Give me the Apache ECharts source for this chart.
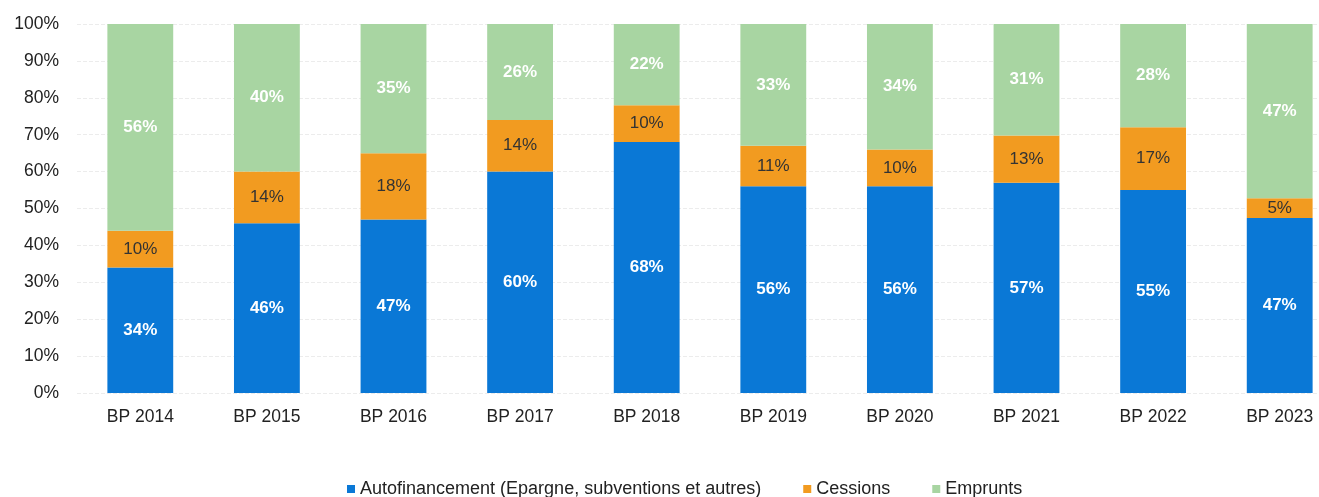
<!DOCTYPE html>
<html>
<head>
<meta charset="utf-8">
<script src="https://cdn.jsdelivr.net/npm/echarts@6/dist/echarts.min.js"></script>
<style>
  html, body { margin: 0; padding: 0; background: #fff; }
  #chart { width: 1319px; height: 497px; }
</style>
</head>
<body>
<div id="chart"></div>
<script>
const categories = ["BP 2014", "BP 2015", "BP 2016", "BP 2017", "BP 2018",
  "BP 2019", "BP 2020", "BP 2021", "BP 2022", "BP 2023"];
const autofinancement = [34, 46, 47, 60, 68, 56, 56, 57, 55, 47.4];
const cessions = [10, 14, 18, 14, 10, 11, 10, 12.8, 17, 5.4];
const emprunts = [56, 40, 35, 26, 22, 33, 34, 30.5, 28, 47.2];

const font = "Liberation Sans, Arial, sans-serif";

function seg(name, data, color, labelColor, bold) {
  return {
    name: name,
    type: "bar",
    stack: "total",
    data: data,
    barWidth: "52%",
    itemStyle: { color: color },
    label: {
      show: true,
      position: "inside",
      formatter: p => Math.round(p.value) + "%",
      color: labelColor,
      fontFamily: font,
      fontSize: 17,
      fontWeight: bold ? "bold" : "normal"
    }
  };
}

const chart = echarts.init(document.getElementById("chart"));
chart.setOption({
  animation: false,
  grid: { left: 77, width: 1266, top: 24, bottom: 104, outerBoundsMode: "none" },
  legend: {
    top: 475,
    left: 342,
    itemWidth: 8,
    itemHeight: 8,
    itemGap: 42,
    icon: "rect",
    textStyle: { fontFamily: font, fontSize: 18, color: "#222" },
    data: ["Autofinancement (Epargne, subventions et autres)", "Cessions", "Emprunts"]
  },
  xAxis: {
    type: "category",
    data: categories,
    axisLine: { show: false },
    axisTick: { show: false },
    axisLabel: { fontFamily: font, fontSize: 17.5, color: "#222", margin: 15 }
  },
  yAxis: {
    type: "value",
    min: 0,
    max: 100,
    interval: 10,
    axisLabel: { formatter: "{value}%", fontFamily: font, fontSize: 17.5, color: "#222", margin: 18 },
    axisLine: { show: false },
    axisTick: { show: false },
    splitLine: { lineStyle: { color: "#ececec", type: "dashed" } }
  },
  series: [
    seg("Autofinancement (Epargne, subventions et autres)", autofinancement, "#0a78d6", "#fff", true),
    seg("Cessions", cessions, "#f29b20", "#333", false),
    seg("Emprunts", emprunts, "#a8d5a2", "#fff", true)
  ]
});
</script>
</body>
</html>
